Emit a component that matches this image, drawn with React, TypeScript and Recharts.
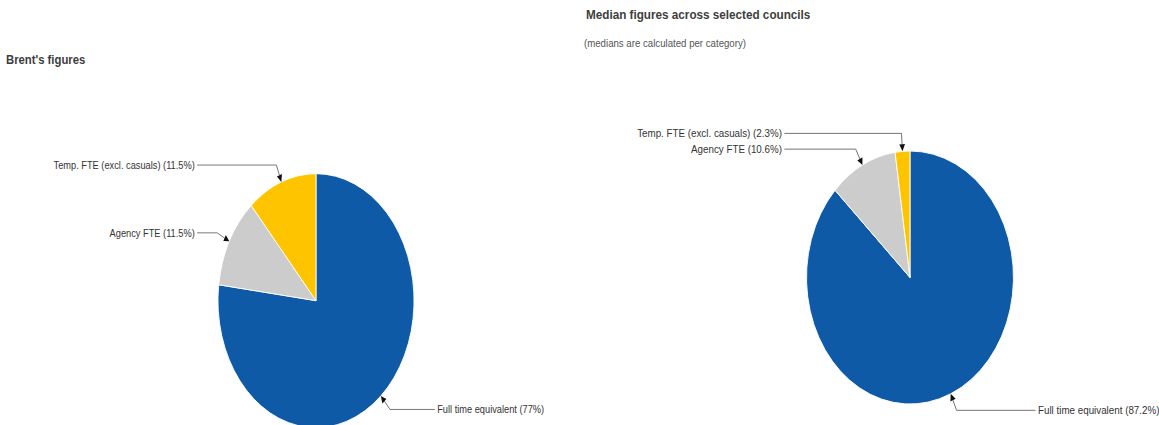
import React from 'react';
import { PieChart, Pie, Cell } from 'recharts';

const categories = ['Full time equivalent', 'Agency FTE', 'Temp. FTE (excl. casuals)'];
const brentValues = [77, 11.5, 11.5];
const medianValues = [87.2, 10.6, 2.3];
const sliceColors = ['#0e5aa7', '#cccccc', '#ffc400'];

const leftTitle = "Brent's figures";
const rightTitle = 'Median figures across selected councils';
const rightSubtitle = '(medians are calculated per category)';

const FONT = '"Liberation Sans", Arial, Helvetica, sans-serif';
const RADIAN = Math.PI / 180;
const LABEL_FONT = 11;
const LABEL_K = 12 / 11;

const renderLabel = (props: any) => {
  const { cx, cy, midAngle, outerRadius, name, value } = props;
  const c = Math.cos(-midAngle * RADIAN);
  const s = Math.sin(-midAngle * RADIAN);
  const tipX = cx + outerRadius * c;
  const tipY = cy + outerRadius * s;
  const elX = cx + (outerRadius + 18) * c;
  const elY = cy + (outerRadius + 18) * s;
  const side = c >= 0 ? 1 : -1;
  const endX = cx + side * (outerRadius + 27);
  const textX = endX + side * 3;
  const dx = tipX - elX;
  const dy = tipY - elY;
  const len = Math.sqrt(dx * dx + dy * dy) || 1;
  const ux = dx / len;
  const uy = dy / len;
  const aL = 7;
  const aW = 3.5;
  const bx = tipX - ux * aL;
  const by = tipY - uy * aL;
  const p1 = `${bx - uy * aW},${by + ux * aW}`;
  const p2 = `${bx + uy * aW},${by - ux * aW}`;
  return (
    <g>
      <path
        d={`M${endX},${elY}L${elX},${elY}L${bx},${by}`}
        stroke="#666"
        strokeWidth={1}
        fill="none"
      />
      <polygon points={`${tipX},${tipY} ${p1} ${p2}`} fill="#111" />
      <text
        x={textX}
        y={elY}
        textAnchor={side > 0 ? 'start' : 'end'}
        dominantBaseline="central"
        fontSize={LABEL_FONT}
        fontFamily={FONT}
        fill="#333"
        transform={`translate(${textX} 0) scale(${LABEL_K} 1) translate(${-textX} 0)`}
      >
        {`${name} (${value}%)`}
      </text>
    </g>
  );
};

function PiePanel(props: {
  left: number;
  width: number;
  sx: number;
  cx: number;
  cy: number;
  r: number;
  values: number[];
}) {
  const { left, width, sx, cx, cy, r, values } = props;
  const data = categories.map((name, i) => ({ name, value: values[i] }));
  const innerW = width / sx;
  return (
    <div style={{ position: 'absolute', left, top: 0, width, height: 425, overflow: 'hidden' }}>
      <div style={{ width: innerW, height: 425, transform: `scaleX(${sx})`, transformOrigin: '0 0' }}>
        <PieChart width={innerW} height={425} margin={{ top: 0, right: 0, bottom: 0, left: 0 }}>
          <Pie
            data={data}
            dataKey="value"
            nameKey="name"
            cx={(cx - left) / sx}
            cy={cy}
            outerRadius={r}
            startAngle={90}
            endAngle={-270}
            stroke="#ffffff"
            strokeWidth={1}
            labelLine={false}
            label={renderLabel}
            isAnimationActive={false}
          >
            {data.map((d, i) => (
              <Cell key={d.name} fill={sliceColors[i]} />
            ))}
          </Pie>
        </PieChart>
      </div>
    </div>
  );
}

export default function App() {
  return (
    <div style={{ position: 'absolute', left: 0, top: 0, width: 1159, height: 425, overflow: 'hidden', background: '#fff', fontFamily: FONT }}>
      <PiePanel left={0} width={580} sx={0.772} cx={316} cy={300.7} r={127} values={brentValues} />
      <PiePanel left={580} width={579} sx={0.818} cx={910} cy={277.5} r={126.5} values={medianValues} />
      <div
        style={{
          position: 'absolute', left: 6, top: 53.3, fontSize: 13, lineHeight: '13px', fontWeight: 'bold',
          color: '#3d3d3d', whiteSpace: 'nowrap', transform: 'scaleX(0.869)', transformOrigin: '0 0',
        }}
      >
        {leftTitle}
      </div>
      <div
        style={{
          position: 'absolute', left: 585.5, top: 8.3, fontSize: 13, lineHeight: '13px', fontWeight: 'bold',
          color: '#3d3d3d', whiteSpace: 'nowrap', transform: 'scaleX(0.9)', transformOrigin: '0 0',
        }}
      >
        {rightTitle}
      </div>
      <div
        style={{
          position: 'absolute', left: 584, top: 38.5, fontSize: 10, lineHeight: '10px',
          color: '#555', whiteSpace: 'nowrap', transform: 'scaleX(0.965)', transformOrigin: '0 0',
        }}
      >
        {rightSubtitle}
      </div>
    </div>
  );
}
